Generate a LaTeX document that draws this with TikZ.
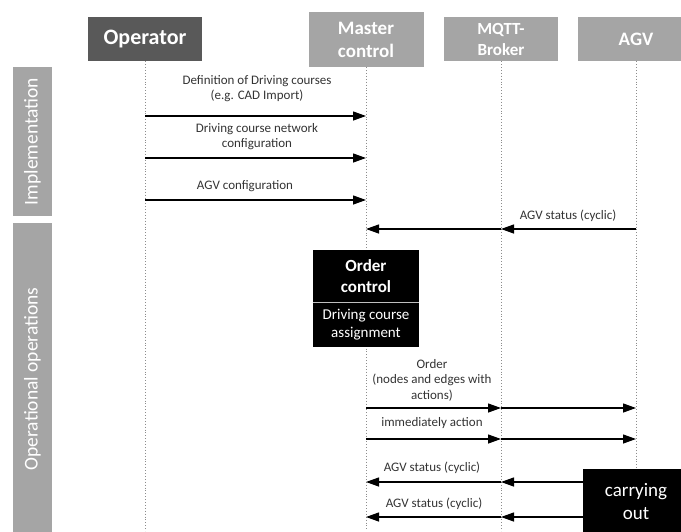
\documentclass[tikz,border=0pt]{standalone}
\usepackage{fontspec}
\setmainfont{Carlito}
\usetikzlibrary{arrows.meta}
\definecolor{hdrgray}{HTML}{A5A5A5}
\definecolor{hdrdark}{HTML}{595959}
\definecolor{lifegray}{HTML}{8C8C8C}
\definecolor{lbltext}{HTML}{333333}
\begin{document}
\begin{tikzpicture}[x=1pt,y=-1pt,
  hdr/.style={fill=hdrgray, text=white, align=center, inner sep=0pt,
    font=\bfseries\fontsize{19}{23}\selectfont},
  phase/.style={fill=hdrgray, text=white, rotate=90, inner sep=0pt,
    minimum height=39pt, font=\fontsize{19.5}{22}\selectfont},
  life/.style={lifegray, line width=0.9pt, dotted},
  msg/.style={-{Triangle[length=13pt,width=9pt]}, line width=1.3pt, black},
  lbl/.style={text=lbltext, align=center, inner sep=0pt,
    font=\fontsize{13}{15.5}\selectfont},
  blackbox/.style={fill=black, text=white, align=center, inner sep=0pt,
    minimum width=106pt},
]
\useasboundingbox (0,0) rectangle (681,531);

% participants
\node[hdr, fill=hdrdark, minimum width=114pt, minimum height=44pt,
  font=\bfseries\fontsize{22}{25}\selectfont] (op) at (145,39) {Operator};
\node[hdr, minimum width=115pt, minimum height=55pt] (mc) at (366,39.5) {Master\\control};
\node[hdr, minimum width=114pt, minimum height=44pt,
  font=\bfseries\fontsize{17}{21}\selectfont] (mq) at (501,39) {MQTT-\\Broker};
\node[hdr, minimum width=116pt, minimum height=44pt] (agv) at (636,39) {AGV};

% phases
\node[phase, minimum width=149pt] (impl) at (32.5,141.5) {Implementation};
\node[phase, minimum width=312pt] (oper) at (32.5,379) {Operational operations};

% lifelines
\coordinate (bottom) at (0,531);
\draw[life] (op.south) -- (op.south |- bottom);
\draw[life] (mc.south) -- (mc.south |- bottom);
\draw[life] (mq.south) -- (mq.south |- bottom);
\draw[life] (agv.south) -- (agv.south |- bottom);

% message rows
\coordinate (r1) at (0,116);
\coordinate (r2) at (0,158);
\coordinate (r3) at (0,200);
\coordinate (r4) at (0,229);
\coordinate (r5) at (0,408);
\coordinate (r6) at (0,439);
\coordinate (r7) at (0,482);
\coordinate (r8) at (0,517);

% implementation messages
\node[lbl] (l1) at (257,88.5) {Definition of Driving courses\\(e.g. CAD Import)};
\draw[msg] (op |- r1) -- (mc |- r1);
\node[lbl] (l2) at (257,136.5) {Driving course network\\configuration};
\draw[msg] (op |- r2) -- (mc |- r2);
\node[lbl] (l3) at (245,186) {AGV configuration};
\draw[msg] (op |- r3) -- (mc |- r3);
\node[lbl] (l4) at (568,216) {AGV status (cyclic)};
\draw[msg] (agv |- r4) -- (mq |- r4);
\draw[msg] (mq |- r4) -- (mc |- r4);

% order control block on the master lifeline
\node[blackbox, minimum height=52pt, font=\bfseries\fontsize{17}{21}\selectfont]
  (oc) at (366,276) {Order\\control};
\node[blackbox, minimum height=45pt, anchor=north, font=\fontsize{15}{18}\selectfont]
  (dc) at (oc.south) {Driving course\\assignment};
\draw[white!75!black, line width=0.8pt] (oc.south west) -- (oc.south east);

% operational messages
\node[lbl] (l5) at (432,380) {Order\\(nodes and edges with\\actions)};
\draw[msg] (mc |- r5) -- (mq |- r5);
\draw[msg] (mq |- r5) -- (agv |- r5);
\node[lbl] (l6) at (432,423) {immediately action};
\draw[msg] (mc |- r6) -- (mq |- r6);
\draw[msg] (mq |- r6) -- (agv |- r6);
\node[lbl] (l7) at (432,468) {AGV status (cyclic)};
\draw[msg] (agv |- r7) -- (mq |- r7);
\draw[msg] (mq |- r7) -- (mc |- r7);
\node[lbl] (l8) at (434,504) {AGV status (cyclic)};
\draw[msg] (agv |- r8) -- (mq |- r8);
\draw[msg] (mq |- r8) -- (mc |- r8);

% execution box on the AGV lifeline
\node[blackbox, minimum height=66pt, font=\fontsize{19}{23}\selectfont]
  (co) at (636,502) {carrying\\out};
\end{tikzpicture}
\end{document}
